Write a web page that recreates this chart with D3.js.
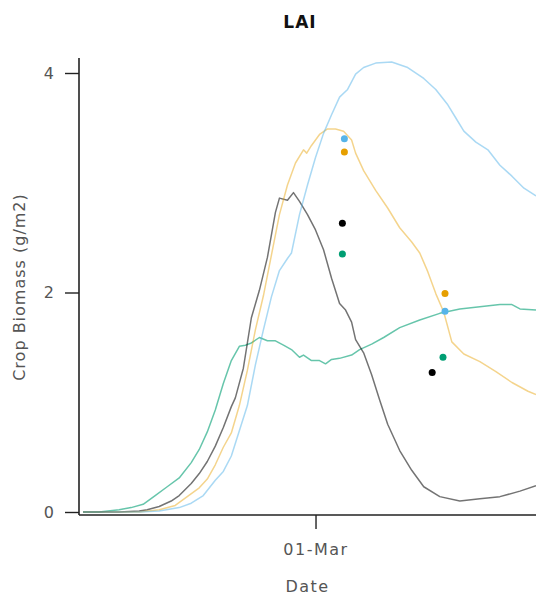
<!DOCTYPE html>
<html>
<head>
<meta charset="utf-8">
<script src="https://cdn.jsdelivr.net/npm/d3@7"></script>
<style>
  html, body { margin: 0; padding: 0; background: #fff; }
  svg { display: block; }
  text { font-family: "DejaVu Sans", sans-serif; }
</style>
</head>
<body>
<svg id="chart" width="536" height="601"></svg>
<script>
// Season start; all series positions are days after this date
const seasonStart = Date.UTC(2022, 0, 1);
const seasonEndDay = 114;

// Simulated LAI, black run
const blackDays = [1, 10, 15, 17, 20, 23, 25, 28, 30, 32, 34, 36, 38, 39, 41, 43, 45, 47, 49, 50, 52, 53.5, 55, 57, 59, 61, 63, 65, 66.5, 68, 69, 71, 73, 75, 77, 80, 83, 86, 90, 95, 100, 105, 110, 114];
const blackLAI  = [0.00, 0.00, 0.01, 0.02, 0.05, 0.10, 0.15, 0.26, 0.35, 0.46, 0.60, 0.77, 0.96, 1.04, 1.31, 1.77, 2.02, 2.32, 2.73, 2.86, 2.84, 2.91, 2.83, 2.71, 2.57, 2.39, 2.13, 1.90, 1.84, 1.73, 1.57, 1.45, 1.25, 1.02, 0.80, 0.56, 0.38, 0.23, 0.14, 0.10, 0.12, 0.14, 0.19, 0.24];

// Simulated LAI, green run
const greenDays = [1, 5, 10, 13, 16, 19, 22, 25, 28, 30, 32, 34, 36, 38, 40, 41.5, 43, 45, 47, 49, 51, 53, 55, 56, 58, 60, 61.5, 63, 65, 68, 70, 73, 76, 80, 85, 90, 95, 100, 105, 108, 110, 114];
const greenLAI  = [0.00, 0.00, 0.02, 0.04, 0.07, 0.15, 0.23, 0.31, 0.45, 0.57, 0.73, 0.93, 1.17, 1.38, 1.51, 1.52, 1.54, 1.59, 1.56, 1.56, 1.52, 1.48, 1.41, 1.43, 1.38, 1.38, 1.35, 1.39, 1.40, 1.43, 1.48, 1.53, 1.59, 1.68, 1.75, 1.81, 1.85, 1.87, 1.89, 1.89, 1.85, 1.84];

// Simulated LAI, orange run
const orangeDays = [1, 10, 15, 20, 24, 27, 30, 32, 34, 36, 38, 40, 42, 44, 46, 48, 50, 52, 54, 56, 56.8, 58, 60, 62, 64, 66, 68, 69, 71, 74, 77, 80, 83, 85, 87, 89, 91, 93, 96, 100, 104, 108, 112, 114];
const orangeLAI  = [0.00, 0.00, 0.00, 0.02, 0.06, 0.14, 0.22, 0.30, 0.43, 0.59, 0.72, 0.97, 1.29, 1.66, 1.97, 2.34, 2.71, 2.98, 3.18, 3.30, 3.27, 3.34, 3.44, 3.49, 3.49, 3.47, 3.39, 3.27, 3.11, 2.93, 2.77, 2.59, 2.46, 2.36, 2.19, 1.99, 1.82, 1.55, 1.44, 1.37, 1.28, 1.18, 1.10, 1.07];

// Simulated LAI, blue run
const blueDays = [1, 15, 20, 25, 28, 31, 34, 36, 38, 40, 42, 44, 46, 48, 50, 52, 53, 55, 57, 59, 61, 63, 65, 67, 69, 71, 74, 78, 82, 86, 89, 92, 94, 96, 99, 102, 105, 108, 111, 114];
const blueLAI  = [0.00, 0.00, 0.01, 0.04, 0.08, 0.15, 0.29, 0.37, 0.51, 0.74, 0.97, 1.34, 1.66, 1.96, 2.20, 2.31, 2.36, 2.71, 2.98, 3.23, 3.45, 3.62, 3.78, 3.85, 3.99, 4.05, 4.09, 4.10, 4.05, 3.95, 3.85, 3.71, 3.59, 3.47, 3.37, 3.30, 3.16, 3.06, 2.95, 2.88];

// Observed LAI
const obsSeries = ["blue", "orange", "black", "green", "blue", "orange", "black", "green"];
const obsDays   = [66.2, 66.2, 65.7, 65.7, 91.3, 91.3, 88.1, 90.8];
const obsLAI    = [3.40, 3.28, 2.63, 2.35, 1.83, 1.99, 1.27, 1.41];

// Axis ticks
const yTicks = [0, 2, 4];
const xTickDates = [Date.UTC(2022, 2, 1)];

const lineColor = { blue: "#56B4E9", orange: "#E69F00", black: "#000000", green: "#009E73" };
const lineOpacity = { blue: 0.5, orange: 0.45, black: 0.55, green: 0.6 };

const toDate = d => new Date(seasonStart + d * 864e5);

const svg = d3.select("#chart");
const plotLeft = 79, plotRight = 536, plotTop = 58, plotBottom = 515;

const x = d3.scaleUtc()
  .domain([toDate(0), toDate(seasonEndDay)])
  .range([plotLeft, plotRight]);
const y = d3.scaleLinear()
  .domain([0, 4])
  .range([512, 73]);

const runs = [
  { key: "green", days: greenDays, lai: greenLAI },
  { key: "black", days: blackDays, lai: blackLAI },
  { key: "orange", days: orangeDays, lai: orangeLAI },
  { key: "blue", days: blueDays, lai: blueLAI }
];

const line = d3.line()
  .x(d => x(toDate(d[0])))
  .y(d => y(d[1]));

svg.append("g")
  .selectAll("path")
  .data(runs)
  .join("path")
  .attr("d", r => line(r.days.map((d, i) => [d, r.lai[i]])))
  .attr("fill", "none")
  .attr("stroke", r => lineColor[r.key])
  .attr("stroke-opacity", r => lineOpacity[r.key])
  .attr("stroke-width", 1.5)
  .attr("stroke-linejoin", "round");

svg.append("g")
  .selectAll("circle")
  .data(obsLAI.map((v, i) => ({ key: obsSeries[i], day: obsDays[i], v })))
  .join("circle")
  .attr("cx", d => x(toDate(d.day)))
  .attr("cy", d => y(d.v))
  .attr("r", 3.5)
  .attr("fill", d => lineColor[d.key]);

// Y axis
const yAxis = svg.append("g")
  .attr("transform", `translate(${plotLeft},0)`)
  .call(d3.axisLeft(y).tickValues(yTicks).tickFormat(d3.format("d")).tickSize(14).tickPadding(11).tickSizeOuter(0));
yAxis.select(".domain").attr("d", `M0,${plotTop}V${plotBottom}`).attr("stroke", "#222").attr("stroke-width", 1.6);
yAxis.selectAll(".tick line").attr("stroke", "#222").attr("stroke-width", 1.4);
yAxis.selectAll(".tick text").attr("fill", "#555").style("font-size", "16px");

// X axis
const xAxis = svg.append("g")
  .attr("transform", `translate(0,${plotBottom})`)
  .call(d3.axisBottom(x).tickValues(xTickDates.map(t => new Date(t))).tickFormat(d3.utcFormat("%d-%b")).tickSize(14).tickPadding(15).tickSizeOuter(0));
xAxis.select(".domain").attr("d", `M${plotLeft},0H${plotRight}`).attr("stroke", "#222").attr("stroke-width", 1.6);
xAxis.selectAll(".tick line").attr("stroke", "#222").attr("stroke-width", 1.4);
xAxis.selectAll(".tick text").attr("fill", "#555").style("font-size", "16px").style("letter-spacing", "1.5px");

// Titles
svg.append("text")
  .attr("x", 300).attr("y", 28)
  .attr("text-anchor", "middle")
  .style("font-size", "17px").style("font-weight", "bold").style("letter-spacing", "1px")
  .attr("fill", "#111")
  .text("LAI");

svg.append("text")
  .attr("x", (plotLeft + plotRight) / 2).attr("y", 592)
  .attr("text-anchor", "middle")
  .style("font-size", "16px").style("letter-spacing", "1.5px")
  .attr("fill", "#555")
  .text("Date");

svg.append("text")
  .attr("transform", `translate(25,287) rotate(-90)`)
  .attr("text-anchor", "middle")
  .style("font-size", "16px").style("letter-spacing", "1px")
  .attr("fill", "#555")
  .text("Crop Biomass (g/m2)");
</script>
</body>
</html>
